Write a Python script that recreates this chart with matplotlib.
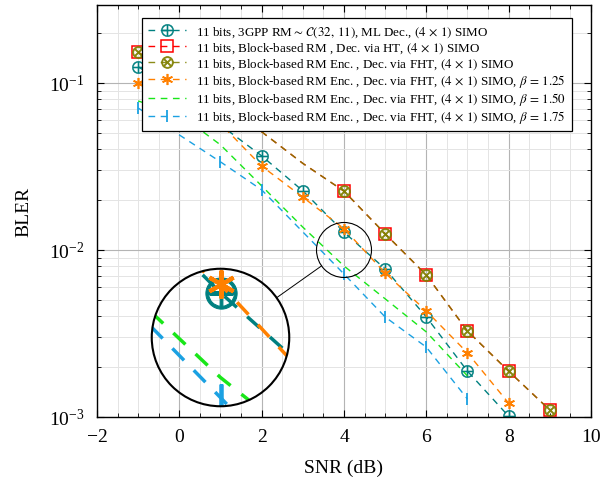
import numpy as np
import matplotlib
matplotlib.use('Agg')
import matplotlib.pyplot as plt
from matplotlib.patches import Circle, Ellipse
from matplotlib.lines import Line2D
from matplotlib.ticker import MultipleLocator

plt.rcParams['font.family'] = ['Liberation Serif', 'DejaVu Serif']
plt.rcParams['mathtext.fontset'] = 'stix'

# values
snr_3gpp = [-1, 0, 1, 2, 3, 4, 5, 6, 7, 8]
bler_3gpp = [0.125, 0.088, 0.056, 0.0366, 0.0226, 0.0128, 0.0077, 0.00397, 0.00188, 0.00101]

snr_blk = [-1, 0, 1, 2, 3, 4, 5, 6, 7, 8, 9]
bler_blk_ht = [0.153, 0.105, 0.072, 0.051, 0.033, 0.0225, 0.0125, 0.00708, 0.00327, 0.00188, 0.0011]
bler_blk_fht = [0.153, 0.105, 0.072, 0.051, 0.033, 0.0225, 0.0125, 0.00708, 0.00327, 0.00188, 0.0011]
blk_marks = [0, 5, 6, 7, 8, 9, 10]

snr_b125 = [-1, 0, 1, 2, 3, 4, 5, 6, 7, 8]
bler_b125 = [0.100, 0.078, 0.057, 0.0318, 0.0207, 0.0134, 0.00728, 0.00431, 0.00242, 0.00121]

snr_b150 = [-1, 0, 1, 2, 3, 4, 5, 6, 7]
bler_b150 = [0.078, 0.065, 0.0426, 0.0242, 0.0137, 0.00802, 0.0051, 0.00323, 0.00176]

snr_b175 = [-1, 1, 2, 4, 5, 6, 7]
bler_b175 = [0.0708, 0.0337, 0.0229, 0.00718, 0.00397, 0.00262, 0.00128]

labels = [
    r'11 bits, 3GPP RM$\sim\,\mathcal{C}(32,\,11)$, ML Dec., $(4\,\times\,1)$ SIMO',
    r'11 bits, Block-based RM , Dec. via HT, $(4\,\times\,1)$ SIMO',
    r'11 bits, Block-based RM Enc. , Dec. via FHT, $(4\,\times\,1)$ SIMO',
    r'11 bits, Block-based RM Enc. , Dec. via FHT, $(4\,\times\,1)$ SIMO, $\beta\,=\,1.25$',
    r'11 bits, Block-based RM Enc. , Dec. via FHT, $(4\,\times\,1)$ SIMO, $\beta\,=\,1.50$',
    r'11 bits, Block-based RM Enc. , Dec. via FHT, $(4\,\times\,1)$ SIMO, $\beta\,=\,1.75$',
]

teal = '#008080'
red = '#ff0000'
olive = '#808000'
orange = '#ff8000'
green = '#19e619'
blue = '#1ba1e2'

W, H = 604, 481
fig = plt.figure(figsize=(W / 100, H / 100), dpi=100)
ax_px = [97, 63, 494, 412]
ax = fig.add_axes([ax_px[0] / W, ax_px[1] / H, ax_px[2] / W, ax_px[3] / H])
xmin, xmax = -2, 10
ymin, ymax = 1e-3, 0.293


def draw_curves(a, k=1.0, lab=True):
    lw = 1.0 * k
    dd = (4.8, 4.0)
    out = []
    out += a.plot(snr_3gpp, bler_3gpp, ls='--', dashes=dd, color=teal, lw=lw,
                  marker=r'$\oplus$', ms=9 * k, mew=0.3 * k,
                  label=labels[0] if lab else None)
    out += a.plot(snr_blk, bler_blk_ht, ls='--', dashes=dd, color=red, lw=lw,
                  marker='s', ms=8 * k, mfc='none', mew=1.1 * k, markevery=blk_marks,
                  label=labels[1] if lab else None)
    out += a.plot(snr_blk, bler_blk_fht, ls='--', dashes=dd, color=olive, lw=lw, alpha=0.9,
                  marker=r'$\otimes$', ms=8.5 * k, mew=0.6 * k, markevery=blk_marks,
                  label=labels[2] if lab else None)
    out += a.plot(snr_b125, bler_b125, ls='--', dashes=dd, color=orange, lw=lw,
                  marker=(6, 2, 0), ms=8 * k, mew=1.2 * k,
                  label=labels[3] if lab else None)
    out += a.plot(snr_b150, bler_b150, ls='--', dashes=dd, color=green, lw=lw,
                  label=labels[4] if lab else None)
    out += a.plot(snr_b175, bler_b175, ls='--', dashes=dd, color=blue, lw=lw,
                  marker='|', ms=8 * k, mew=1.3 * k,
                  label=labels[5] if lab else None)
    return out


draw_curves(ax)
ax.set_yscale('log')
ax.set_xlim(xmin, xmax)
ax.set_ylim(ymin, ymax)
ax.xaxis.set_major_locator(MultipleLocator(2))
ax.xaxis.set_minor_locator(MultipleLocator(0.5))
ax.grid(which='major', color='#b4b4b4', lw=0.8)
ax.grid(which='minor', color='#e4e4e4', lw=0.7)
ax.set_axisbelow(True)
ax.tick_params(which='both', direction='in', top=True, right=True, labelsize=14)
ax.tick_params(which='major', length=5, width=0.8)
ax.tick_params(which='minor', length=3, width=0.6)
ax.tick_params(axis='x', which='both', pad=8)
ax.tick_params(axis='y', which='both', pad=9)
for s in ax.spines.values():
    s.set_linewidth(1.0)
ax.set_xlabel('SNR (dB)', fontsize=14, labelpad=10)
ax.set_ylabel('BLER', fontsize=14, labelpad=12)

leg = ax.legend(loc='upper left', bbox_to_anchor=(0.091, 0.968), borderaxespad=0,
                fontsize=9.4, handlelength=2.9, handletextpad=0.8, labelspacing=0.1,
                fancybox=False, framealpha=1, edgecolor='black', borderpad=0.45)
leg.get_frame().set_linewidth(0.9)

# spy-style zoom circle around (4, 1e-2)
zoom = 2.5
r_s = 27.5
r_b = r_s * zoom
px_x = ax_px[2] / (xmax - xmin)
px_dec = ax_px[3] / (np.log10(ymax) - np.log10(ymin))
cx, cy = 4, 1e-2
sx = ax_px[0] + (cx - xmin) * px_x
sy = ax_px[1] + (np.log10(cy) - np.log10(ymin)) * px_dec
bx, by = 220.5, H - 338.5

ax_in = fig.add_axes([(bx - r_b) / W, (by - r_b) / H, 2 * r_b / W, 2 * r_b / H])
ax_in.set_yscale('log')
ax_in.set_xlim(cx - r_s / px_x, cx + r_s / px_x)
ax_in.set_ylim(10 ** (np.log10(cy) - r_s / px_dec), 10 ** (np.log10(cy) + r_s / px_dec))
ax_in.set_axis_off()
clip = Circle((0.5, 0.5), 0.5, transform=ax_in.transAxes)
for ln in draw_curves(ax_in, k=zoom, lab=False):
    ln.set_clip_path(clip)

fig.patches.append(Ellipse((sx / W, sy / H), 2 * r_s / W, 2 * r_s / H, transform=fig.transFigure,
                           fill=False, ec='black', lw=0.8))
fig.patches.append(Ellipse((bx / W, by / H), 2 * r_b / W, 2 * r_b / H, transform=fig.transFigure,
                           fill=False, ec='black', lw=1.5))
d = np.hypot(sx - bx, sy - by)
ux, uy = (bx - sx) / d, (by - sy) / d
fig.lines.append(Line2D([(sx + ux * r_s) / W, (bx - ux * r_b) / W],
                        [(sy + uy * r_s) / H, (by - uy * r_b) / H],
                        transform=fig.transFigure, color='black', lw=0.7))

fig.savefig('out.png', dpi=100)
